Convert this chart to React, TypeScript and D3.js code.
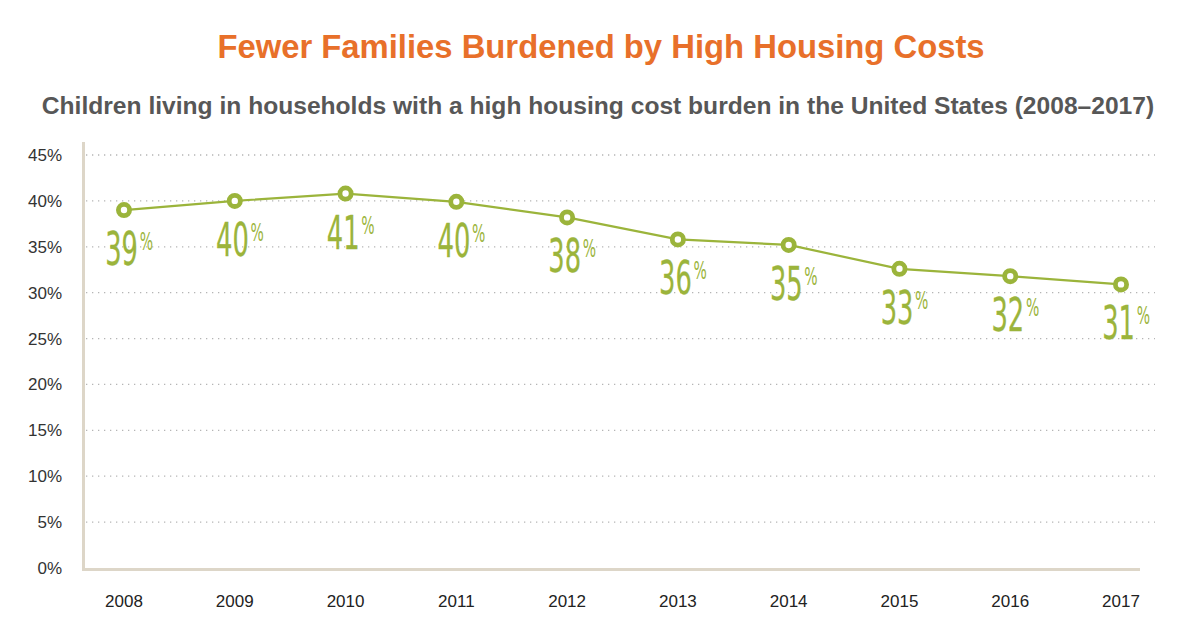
import React from 'react';
import { scaleLinear, scalePoint, line, range } from 'd3';

const width = 1200;
const height = 630;

const years = ['2008', '2009', '2010', '2011', '2012', '2013', '2014', '2015', '2016', '2017'];
const values = [39, 40, 40.8, 39.9, 38.2, 35.8, 35.2, 32.6, 31.8, 30.9];
const labels = ['39', '40', '41', '40', '38', '36', '35', '33', '32', '31'];
const yTicks = range(0, 50, 5);

const green = '#9bb43b';
const axisColor = '#ddd6c8';
const font = 'Liberation Sans, Arial, sans-serif';

const x = scalePoint<string>().domain(years).range([124, 1121]);
const y = scaleLinear().domain([0, 45]).range([568, 155]);

const pathLine = line<number>()
  .x((_, i) => x(years[i]) as number)
  .y((d) => y(d));

const App = () => {
  return (
    <svg width={width} height={height} style={{ display: 'block', margin: '-8px' }}>
      <rect width={width} height={height} fill="#fff" />
      <text x={601} y={58} textAnchor="middle" fontFamily={font}
        fontWeight="bold" fontSize={32.8} fill="#e8702a">
        Fewer Families Burdened by High Housing Costs
      </text>
      <text x={598} y={114} textAnchor="middle" fontFamily={font}
        fontWeight="bold" fontSize={24.6} fill="#575757">
        Children living in households with a high housing cost burden in the United States (2008–2017)
      </text>

      {yTicks.map((t) => (
        <g key={t}>
          {t > 0 && (
            <line x1={86} x2={1155} y1={y(t)} y2={y(t)} stroke="#b5b5b5" strokeWidth={1.3}
              strokeDasharray="1.3,4.7" />
          )}
          <text x={62} y={y(t) + 6} textAnchor="end" fontFamily={font}
            fontSize={17} fill="#333">
            {t}%
          </text>
        </g>
      ))}

      <path d={`M83.5,142V569.5H1140`} fill="none" stroke={axisColor} strokeWidth={3} />

      {years.map((yr) => (
        <text key={yr} x={x(yr)} y={607} textAnchor="middle" fontFamily={font}
          fontSize={17} fill="#222">
          {yr}
        </text>
      ))}

      <path d={pathLine(values) as string} fill="none" stroke={green} strokeWidth={2.2} />

      {values.map((v, i) => {
        const cx = x(years[i]) as number;
        const cy = y(v);
        return (
          <g key={i}>
            <circle cx={cx} cy={cy} r={5.6} fill="#fff" stroke={green} strokeWidth={4.8} />
            <g transform={`translate(${cx + 14},${cy + 55}) scale(0.56,1)`}>
              <text x={0} y={0} textAnchor="end" fontFamily="DejaVu Sans, sans-serif"
                fontSize={46} fill={green} stroke={green} strokeWidth={0.3}>
                {labels[i]}
              </text>
              <text x={3} y={-15} textAnchor="start" fontFamily="DejaVu Sans, sans-serif"
                fontSize={25} fill={green}>
                %
              </text>
            </g>
          </g>
        );
      })}
    </svg>
  );
};

export default App;
